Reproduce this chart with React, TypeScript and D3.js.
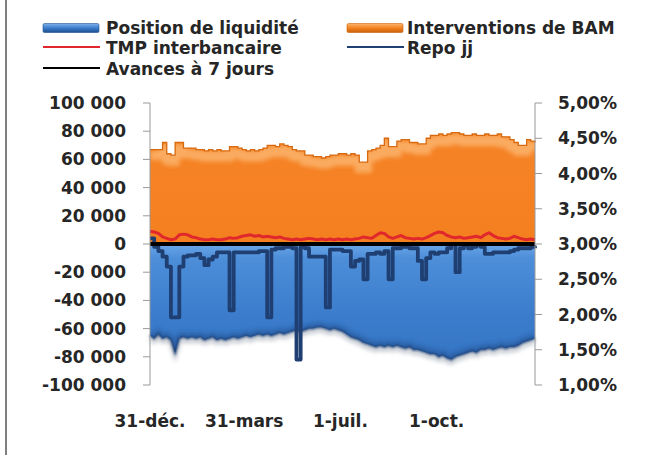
import React from "react";
import * as d3 from "d3";

// ---- DATA ----
const START_DATE = "2010-12-31";
const END_DATE = "2012-01-03";
const STEP_DAYS = 4;

// Interventions de BAM (MDH)
const interventions = [
  67000, 67000, 67000, 72000, 64000, 63000, 72000, 72000, 68000, 68000,
  68000, 67000, 67000, 66000, 67000, 66000, 67000, 66000, 66000, 69000,
  69000, 68000, 67000, 66000, 67000, 66000, 67000, 68000, 70000, 70000,
  69000, 71000, 70000, 69000, 67000, 66000, 66000, 63000, 63000, 62000,
  62000, 61000, 62000, 63000, 63000, 64000, 64000, 63000, 64000, 63000,
  58000, 58000, 66000, 67000, 68000, 70000, 75000, 69000, 69000, 73000,
  74000, 74000, 72000, 72000, 71000, 71000, 75000, 77000, 77000, 78000,
  77000, 78000, 79000, 79000, 78000, 77000, 77000, 78000, 77000, 77000,
  78000, 77000, 77000, 78000, 76000, 76000, 74000, 72000, 70000, 70000,
  74000, 73000, 72000,
];

// Position de liquidité (MDH)
const liquidite = [
  -65000, -67000, -64000, -67000, -66000, -68000, -77000, -67000, -66000, -67000,
  -66000, -67000, -66000, -68000, -67000, -66000, -68000, -67000, -68000, -67000,
  -66000, -67000, -66000, -65000, -66000, -65000, -64000, -65000, -64000, -65000,
  -64000, -63000, -64000, -63000, -62000, -61000, -62000, -61000, -60000, -60000,
  -59000, -59000, -60000, -61000, -60000, -61000, -62000, -64000, -66000, -67000,
  -68000, -70000, -71000, -72000, -73000, -72000, -73000, -72000, -73000, -72000,
  -73000, -74000, -73000, -75000, -75000, -76000, -77000, -78000, -78000, -80000,
  -79000, -81000, -82000, -80000, -79000, -78000, -77000, -76000, -77000, -75000,
  -75000, -74000, -75000, -74000, -73000, -74000, -73000, -73000, -72000, -70000,
  -69000, -68000, -67000,
];

// Repo jj (MDH)
const repo = [
  4000, -2000, -5000, -9000, -16000, -52000, -52000, -16000, -9000, -8000,
  -8000, -7000, -10000, -15000, -11000, -9000, -6000, -6000, -6000, -47000,
  -6000, -6000, -6000, -6000, -6000, -6000, -5000, -5000, -52000, -4000,
  -3000, -3000, -2000, -2000, -3000, -82000, -2000, -3000, -9000, -9000,
  -9000, -9000, -45000, -4000, -4000, -4000, -5000, -5000, -16000, -12000,
  -11000, -25000, -7000, -7000, -6000, -7000, -5000, -25000, -3000, -3000,
  -2000, -2000, -3000, -3000, -12000, -25000, -10000, -6000, -7000, -6000,
  -6000, -3000, 0, -20000, -3000, -1000, -3000, -2000, -1000, -2000,
  -7000, -7000, -6000, -6000, -6000, -6000, -5000, -4000, -3000, -3000,
  -3000, -2000, -3000,
];

// TMP interbancaire (%)
const tmp = [
  3.18, 3.17, 3.15, 3.10, 3.08, 3.06, 3.07, 3.13, 3.14, 3.13,
  3.10, 3.09, 3.07, 3.06, 3.06, 3.07, 3.06, 3.06, 3.07, 3.09,
  3.08, 3.09, 3.11, 3.12, 3.13, 3.11, 3.12, 3.10, 3.11, 3.10,
  3.09, 3.10, 3.08, 3.07, 3.06, 3.07, 3.06, 3.07, 3.08, 3.07,
  3.06, 3.07, 3.06, 3.07, 3.06, 3.07, 3.06, 3.07, 3.06, 3.07,
  3.08, 3.10, 3.09, 3.08, 3.12, 3.16, 3.15, 3.10, 3.08, 3.10,
  3.12, 3.09, 3.08, 3.07, 3.08, 3.07, 3.09, 3.12, 3.15, 3.17,
  3.16, 3.12, 3.10, 3.09, 3.10, 3.08, 3.09, 3.10, 3.11, 3.09,
  3.13, 3.16, 3.12, 3.09, 3.08, 3.07, 3.08, 3.11, 3.09, 3.07,
  3.06, 3.07, 3.06,
];

// Avances à 7 jours (MDH)
const avancesDates = ["2010-12-31", "2012-01-03"];
const avances = [0, 0];

const leftTicks = [100000, 80000, 60000, 40000, 20000, 0, -20000, -40000, -60000, -80000, -100000];
const rightTicks = [5, 4.5, 4, 3.5, 3, 2.5, 2, 1.5, 1];
const xTickDates = ["2010-12-31", "2011-03-31", "2011-07-01", "2011-10-01"];
const xTickLabels = ["31-déc.", "31-mars", "1-juil.", "1-oct."];

const legendNames = [
  "Position de liquidité",
  "Interventions de BAM",
  "TMP interbancaire",
  "Repo jj",
  "Avances à 7 jours",
];

// ---- LAYOUT ----
const W = 657;
const H = 455;
const M = { left: 150, right: 535, top: 103, bottom: 385 };
const FONT = "'DejaVu Sans', sans-serif";
const TEXT = "#262626";

const parse = d3.timeParse("%Y-%m-%d");
const locale = d3.formatLocale({
  decimal: ",",
  thousands: " ",
  grouping: [3],
  currency: ["", ""],
  minus: "-",
});
const fmtLeft = locale.format(",d");
const fmtRight = (v: number) => locale.format(".2f")(v) + "%";

export default function App() {
  const start = parse(START_DATE)!;
  const end = parse(END_DATE)!;
  const dates = interventions.map((_, i) => d3.timeDay.offset(start, i * STEP_DAYS));

  const x = d3.scaleTime().domain([start, end]).range([M.left, M.right]);
  const yL = d3.scaleLinear().domain([-100000, 100000]).range([M.bottom, M.top]);
  const yR = d3.scaleLinear().domain([1, 5]).range([M.bottom, M.top]);

  type P = { d: Date; v: number };
  const orangeData: P[] = interventions.map((v, i) => ({ d: dates[i], v }));
  const blueData: P[] = liquidite.map((v, i) => ({ d: dates[i], v }));
  const repoData: P[] = repo.map((v, i) => ({ d: dates[i], v }));
  const tmpData: P[] = tmp.map((v, i) => ({ d: dates[i], v }));
  const avData: P[] = avances.map((v, i) => ({ d: parse(avancesDates[i])!, v }));

  const orangeArea = d3
    .area<P>()
    .x((p) => x(p.d))
    .y0(yL(0))
    .y1((p) => yL(p.v))
    .curve(d3.curveStepAfter)(orangeData)!;
  const orangeTop = d3
    .line<P>()
    .x((p) => x(p.d))
    .y((p) => yL(p.v))
    .curve(d3.curveStepAfter)(orangeData)!;

  const blueArea = d3
    .area<P>()
    .x((p) => x(p.d))
    .y0(yL(0))
    .y1((p) => yL(p.v))(blueData)!;
  const blueBottom = d3
    .line<P>()
    .x((p) => x(p.d))
    .y((p) => yL(p.v))(blueData)!;

  const repoLine = d3
    .line<P>()
    .x((p) => x(p.d))
    .y((p) => yL(p.v))
    .curve(d3.curveStepAfter)(repoData)!;
  const tmpLine = d3
    .line<P>()
    .x((p) => x(p.d))
    .y((p) => yR(p.v))(tmpData)!;
  const avLine = d3
    .line<P>()
    .x((p) => x(p.d))
    .y((p) => yL(p.v))(avData)!;

  const legendRows = [
    { name: legendNames[0], kind: "box", color: "#3b7dcc", dark: "#1f4f8f", x: 43, tx: 106, y: 28, ty: 34 },
    { name: legendNames[1], kind: "box", color: "#f5821f", dark: "#c8610c", x: 347, tx: 407, y: 28, ty: 34 },
    { name: legendNames[2], kind: "line", color: "#e0282c", x: 43, tx: 106, y: 47, ty: 54 },
    { name: legendNames[3], kind: "line", color: "#1f3f73", x: 347, tx: 407, y: 47, ty: 54 },
    { name: legendNames[4], kind: "line", color: "#000000", x: 43, tx: 106, y: 68, ty: 75 },
  ];

  return (
    <svg
      width={W}
      height={H}
      viewBox={`0 0 ${W} ${H}`}
      style={{ position: "absolute", left: 0, top: 0, display: "block", background: "#ffffff" }}
      fontFamily={FONT}
    >
      <defs>
        <linearGradient id="blueGrad" gradientUnits="userSpaceOnUse" x1="0" y1={yL(0)} x2="0" y2={M.bottom}>
          <stop offset="0" stopColor="#6aa6e8" />
          <stop offset="0.1" stopColor="#4d8ed9" />
          <stop offset="0.5" stopColor="#3b7dcc" />
          <stop offset="1" stopColor="#3170bf" />
        </linearGradient>
        <linearGradient id="orangeGrad" gradientUnits="userSpaceOnUse" x1="0" y1={M.top} x2="0" y2={yL(0)}>
          <stop offset="0" stopColor="#f6852a" />
          <stop offset="1" stopColor="#f47f1f" />
        </linearGradient>
        <linearGradient id="swBlue" x1="0" y1="0" x2="0" y2="1">
          <stop offset="0" stopColor="#7fb3ea" />
          <stop offset="0.5" stopColor="#3b7dcc" />
          <stop offset="1" stopColor="#1f4f8f" />
        </linearGradient>
        <linearGradient id="swOrange" x1="0" y1="0" x2="0" y2="1">
          <stop offset="0" stopColor="#fbb56e" />
          <stop offset="0.5" stopColor="#f5821f" />
          <stop offset="1" stopColor="#c8610c" />
        </linearGradient>
        <filter id="blur2" x="-10%" y="-30%" width="120%" height="160%">
          <feGaussianBlur stdDeviation="2" />
        </filter>
        <filter id="blur1" x="-10%" y="-30%" width="120%" height="160%">
          <feGaussianBlur stdDeviation="0.8" />
        </filter>
        <clipPath id="orangeClip">
          <path d={orangeArea} />
        </clipPath>
        <clipPath id="blueClip">
          <path d={blueArea} />
        </clipPath>
      </defs>

      {/* left border */}
      <line x1={6} x2={6} y1={0} y2={H} stroke="#555" strokeWidth={1.5} />

      {/* legend */}
      {legendRows.map((r, i) => (
        <g key={i}>
          {r.kind === "box" ? (
            <rect
              x={r.x}
              y={r.y - 4.5}
              width={56}
              height={9}
              rx={1.5}
              fill={r.color === "#3b7dcc" ? "url(#swBlue)" : "url(#swOrange)"}
              stroke={r.dark}
              strokeWidth={0.6}
            />
          ) : (
            <line x1={r.x} x2={r.x + 57} y1={r.y} y2={r.y} stroke={r.color} strokeWidth={2.2} />
          )}
          <text x={r.tx} y={r.ty} fontSize={17} fontWeight="bold" fill={TEXT}>
            {r.name}
          </text>
        </g>
      ))}

      {/* orange area */}
      <path d={orangeArea} fill="url(#orangeGrad)" />
      <g clipPath="url(#orangeClip)">
        <path d={orangeTop} fill="none" stroke="#fbb36c" strokeWidth={9} opacity={0.85} filter="url(#blur2)" transform="translate(0,6)" />
      </g>
      <path d={orangeTop} fill="none" stroke="#d8690f" strokeWidth={1.3} />

      {/* blue area */}
      <path d={blueBottom} fill="none" stroke="#8a93a0" strokeWidth={4} opacity={0.55} filter="url(#blur2)" transform="translate(0,3)" />
      <path d={blueArea} fill="url(#blueGrad)" />
      <g clipPath="url(#blueClip)">
        <path d={blueBottom} fill="none" stroke="#2a5c9e" strokeWidth={6} opacity={0.7} filter="url(#blur2)" transform="translate(0,-2)" />
      </g>
      <path d={blueBottom} fill="none" stroke="#1f3f73" strokeWidth={2} filter="url(#blur1)" />

      {/* TMP */}
      <path d={tmpLine} fill="none" stroke="#e0282c" strokeWidth={3} strokeLinejoin="round" />
      {/* Repo */}
      <path d={repoLine} fill="none" stroke="#1f3f73" strokeWidth={3.8} strokeLinejoin="round" />
      {/* Avances */}
      <path d={avLine} fill="none" stroke="#000" strokeWidth={4} />

      {/* left axis */}
      <line x1={M.left} x2={M.left} y1={yL(100000)} y2={yL(-100000)} stroke="#999" strokeWidth={1} />
      {leftTicks.map((t) => (
        <g key={"l" + t}>
          <line x1={M.left - 7} x2={M.left} y1={yL(t)} y2={yL(t)} stroke="#999" strokeWidth={1} />
          <text x={126} y={yL(t) + 6} textAnchor="end" fontSize={17} fontWeight="bold" fill={TEXT}>
            {fmtLeft(t)}
          </text>
        </g>
      ))}

      {/* right axis */}
      <line x1={M.right} x2={M.right} y1={yR(5)} y2={yR(1)} stroke="#999" strokeWidth={1} />
      {rightTicks.map((t) => (
        <g key={"r" + t}>
          <line x1={M.right} x2={M.right + 7} y1={yR(t)} y2={yR(t)} stroke="#999" strokeWidth={1} />
          <text x={558} y={yR(t) + 6} textAnchor="start" fontSize={17} fontWeight="bold" fill={TEXT}>
            {fmtRight(t)}
          </text>
        </g>
      ))}

      {/* x labels */}
      {xTickDates.map((d, i) => (
        <text key={d} x={x(parse(d)!)} y={427} textAnchor="middle" fontSize={17} fontWeight="bold" fill={TEXT}>
          {xTickLabels[i]}
        </text>
      ))}
    </svg>
  );
}
